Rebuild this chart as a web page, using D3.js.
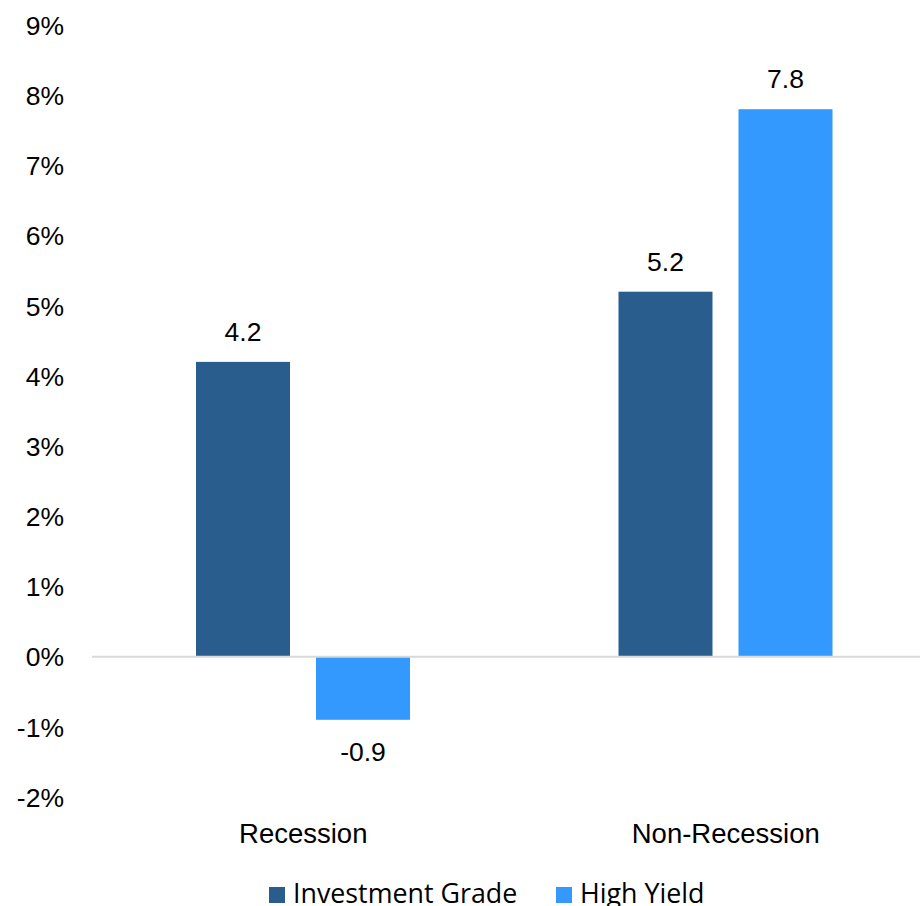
<!DOCTYPE html>
<html>
<head>
<meta charset="utf-8">
<script src="https://cdn.jsdelivr.net/npm/d3@7"></script>
<style>
  html, body { margin: 0; padding: 0; background: #fff; }
  svg { display: block; }
</style>
</head>
<body>
<div id="chart"></div>
<script>
// Returns by economic regime
const categories = ["Recession", "Non-Recession"];
const seriesNames = ["Investment Grade", "High Yield"];
const investmentGrade = [4.2, 5.2];
const highYield = [-0.9, 7.8];
const yTicks = [-2, -1, 0, 1, 2, 3, 4, 5, 6, 7, 8, 9];
const seriesColors = ["#285D8E", "#3399FF"];

const width = 920, height = 906;
const svg = d3.select("#chart").append("svg")
  .attr("width", width).attr("height", height);

const tickFont = "'Liberation Sans', Arial, sans-serif";

const y = d3.scaleLinear().domain([-2, 9]).range([797, 25]);
const x0 = d3.scaleBand().domain(categories).range([92, 937]).padding(0);
const x1 = d3.scaleBand().domain(seriesNames)
  .range([104, 318]).paddingInner(0.2167).paddingOuter(0);

// y axis labels (no axis line)
const yAxis = d3.axisLeft(y).tickValues(yTicks).tickSize(0).tickPadding(0)
  .tickFormat(d => d + "%");
const gy = svg.append("g").attr("transform", "translate(64,0)").call(yAxis);
gy.select(".domain").remove();
gy.selectAll("text")
  .attr("font-family", tickFont).attr("font-size", 26.5).attr("fill", "#000")
  .attr("dy", "0.35em");

// bars
const rows = categories.map((c, i) => ({
  category: c,
  values: [
    { key: seriesNames[0], value: investmentGrade[i] },
    { key: seriesNames[1], value: highYield[i] }
  ]
}));

const groups = svg.selectAll("g.cat").data(rows).join("g")
  .attr("class", "cat")
  .attr("transform", d => `translate(${x0(d.category)},0)`);

groups.selectAll("rect").data(d => d.values).join("rect")
  .attr("x", d => x1(d.key))
  .attr("width", x1.bandwidth())
  .attr("y", d => y(Math.max(0, d.value)))
  .attr("height", d => Math.abs(y(d.value) - y(0)))
  .attr("fill", (d, i) => seriesColors[i]);

// zero line
svg.append("line")
  .attr("x1", 92).attr("x2", 920)
  .attr("y1", y(0)).attr("y2", y(0))
  .attr("stroke", "#d9d9d9").attr("stroke-width", 2);

// value labels
groups.selectAll("text.val").data(d => d.values).join("text")
  .attr("class", "val")
  .attr("x", d => x1(d.key) + x1.bandwidth() / 2)
  .attr("y", d => d.value >= 0 ? y(d.value) - 21 : y(d.value) + 41)
  .attr("text-anchor", "middle")
  .attr("font-family", tickFont).attr("font-size", 26.5).attr("fill", "#000")
  .text(d => d.value.toFixed(1));

// category labels
svg.append("g").selectAll("text").data(categories).join("text")
  .attr("x", d => x0(d) + x0.bandwidth() / 2)
  .attr("y", 843)
  .attr("text-anchor", "middle")
  .attr("font-family", tickFont).attr("font-size", 27.5).attr("fill", "#000")
  .text(d => d);

// legend
const legendFont = "'Open Sans', 'Noto Sans', sans-serif";
const legendItems = [
  { name: seriesNames[0], color: seriesColors[0], x: 269 },
  { name: seriesNames[1], color: seriesColors[1], x: 556 }
];
const lg = svg.append("g").selectAll("g").data(legendItems).join("g")
  .attr("transform", d => `translate(${d.x},0)`);
lg.append("rect").attr("x", 0).attr("y", 887).attr("width", 16).attr("height", 16)
  .attr("fill", d => d.color);
lg.append("text").attr("x", 24).attr("y", 903)
  .attr("font-family", legendFont).attr("font-size", 26.8).attr("fill", "#000")
  .text(d => d.name);
</script>
</body>
</html>
